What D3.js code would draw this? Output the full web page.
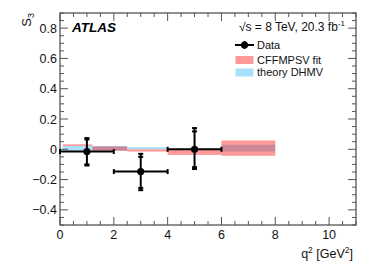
<!DOCTYPE html>
<html><head><meta charset="utf-8">
<script src="https://cdn.jsdelivr.net/npm/d3@7"></script>
<style>body{margin:0;background:#fff}svg{display:block;font-family:"Liberation Sans",Arial,sans-serif}</style>
</head><body>
<svg id="c" width="374" height="268"></svg>
<script>
// Data
const dataX = [1, 3, 5];
const dataXlo = [0, 2, 4];
const dataXhi = [2, 4, 6];
const dataY = [-0.015, -0.147, 0.0];
const statUp = [0.080, 0.097, 0.118];
const statDn = [0.085, 0.108, 0.118];
const totUp = [0.089, 0.117, 0.140];
const totDn = [0.092, 0.123, 0.130];

const fitLo = [0.1, 1.2, 2.5, 4.0, 6.0];
const fitHi = [1.2, 2.5, 4.0, 6.0, 8.0];
const fitMin = [0.022, -0.010, -0.015, -0.037, -0.043];
const fitMax = [0.033, 0.019, 0.000, -0.003, 0.058];

const thLo = [0.1, 2.5, 6.0];
const thHi = [2.5, 4.0, 8.0];
const thMin = [-0.010, 0.000, -0.015];
const thMax = [0.022, 0.0145, 0.030];

const xTicks = [0, 2, 4, 6, 8, 10];
const yTicks = [-0.4, -0.2, 0, 0.2, 0.4, 0.6, 0.8];

const L = 60, R = 356, T = 13, B = 225;
const x = d3.scaleLinear().domain([0, 11]).range([L, R]);
const y = d3.scaleLinear().domain([-0.5, 0.9]).range([B, T]);
const svg = d3.select("#c");
const frameCol = "#555";

// theory bands
svg.append("g").selectAll("rect").data(thLo).join("rect")
  .attr("x", (d,i) => x(d)).attr("width", (d,i) => x(thHi[i]) - x(d))
  .attr("y", (d,i) => y(thMax[i])).attr("height", (d,i) => y(thMin[i]) - y(thMax[i]))
  .attr("fill", "#aae1fa");
svg.append("g").selectAll("rect").data(fitLo).join("rect")
  .attr("x", (d,i) => x(d)).attr("width", (d,i) => x(fitHi[i]) - x(d))
  .attr("y", (d,i) => y(fitMax[i])).attr("height", (d,i) => y(fitMin[i]) - y(fitMax[i]))
  .attr("fill", "rgba(255,0,0,0.4)");

// frame + ticks
function ticksY(side) {
  const g = svg.append("g");
  const minor = d3.range(-0.5, 0.9001, 0.05);
  minor.forEach(v => {
    const isMajor = Math.abs(Math.round(v*5) - v*5) < 1e-6;
    const len = isMajor ? 8 : 4;
    const x0 = side === "l" ? L : R;
    const x1 = side === "l" ? L + len : R - len;
    g.append("line").attr("x1", x0).attr("x2", x1).attr("y1", y(v)).attr("y2", y(v))
      .attr("stroke", frameCol).attr("stroke-width", 1);
  });
}
function ticksX(side) {
  const g = svg.append("g");
  const minor = d3.range(0, 11.001, 0.5);
  minor.forEach(v => {
    const isMajor = Math.abs(v % 2) < 1e-6;
    const len = isMajor ? 8 : 4;
    const y0 = side === "b" ? B : T;
    const y1 = side === "b" ? B - len : T + len;
    g.append("line").attr("x1", x(v)).attr("x2", x(v)).attr("y1", y0).attr("y2", y1)
      .attr("stroke", frameCol).attr("stroke-width", 1);
  });
}
ticksY("l"); ticksY("r"); ticksX("b"); ticksX("t");
svg.append("rect").attr("x", L).attr("y", T).attr("width", R - L).attr("height", B - T)
  .attr("fill", "none").attr("stroke", frameCol).attr("stroke-width", 1.3);

// tick labels
const fmt = v => (v < 0 ? "\u2212" : "") + (v === 0 ? "0" : Math.abs(v).toFixed(1));
svg.append("g").selectAll("text").data(yTicks).join("text")
  .attr("x", L - 3).attr("y", d => y(d) + 4.5).attr("text-anchor", "end")
  .attr("font-size", 12.5).attr("fill", "#111").text(fmt);
svg.append("g").selectAll("text").data(xTicks).join("text")
  .attr("x", d => x(d)).attr("y", B + 14).attr("text-anchor", "middle")
  .attr("font-size", 12.5).attr("fill", "#111").text(d => d);

// axis titles
const yt = svg.append("text").attr("transform", `translate(31,${T}) rotate(-90)`)
  .attr("text-anchor", "end").attr("font-size", 13).attr("fill", "#111");
yt.append("tspan").text("S");
yt.append("tspan").attr("font-size", 9).attr("dy", 3).text("3");
const xt = svg.append("text").attr("x", 353).attr("y", 258).attr("text-anchor", "end")
  .attr("font-size", 12.5).attr("fill", "#111");
xt.append("tspan").text("q");
xt.append("tspan").attr("font-size", 8.5).attr("dy", -5).text("2");
xt.append("tspan").attr("dy", 5).text(" [GeV");
xt.append("tspan").attr("font-size", 8.5).attr("dy", -5).text("2");
xt.append("tspan").attr("dy", 5).text("]");

// labels
svg.append("text").attr("x", 72).attr("y", 32).attr("font-size", 13.5)
  .attr("font-weight", "bold").attr("font-style", "italic").attr("fill", "#000").text("ATLAS");
const en = svg.append("text").attr("x", 345).attr("y", 31).attr("text-anchor", "end")
  .attr("font-size", 12).attr("fill", "#111");
en.append("tspan").text("\u221As = 8 TeV, 20.3 fb");
en.append("tspan").attr("font-size", 8).attr("dy", -5).text("-1");

// data points
const dg = svg.append("g").attr("stroke", "#000").attr("stroke-width", 2);
dataX.forEach((xv, i) => {
  const cy = y(dataY[i]);
  dg.append("line").attr("x1", x(dataXlo[i])).attr("x2", x(dataXhi[i])).attr("y1", cy).attr("y2", cy);
  [dataXlo[i], dataXhi[i]].forEach(e => dg.append("line").attr("x1", x(e)).attr("x2", x(e)).attr("y1", cy - 2.5).attr("y2", cy + 2.5));
  dg.append("line").attr("x1", x(xv)).attr("x2", x(xv)).attr("y1", y(dataY[i] + totUp[i])).attr("y2", y(dataY[i] - totDn[i]));
  [dataY[i] + totUp[i], dataY[i] - totDn[i], dataY[i] + statUp[i], dataY[i] - statDn[i]].forEach(v =>
    dg.append("line").attr("x1", x(xv) - 2.5).attr("x2", x(xv) + 2.5).attr("y1", y(v)).attr("y2", y(v)));
});
svg.append("g").selectAll("circle").data(dataX).join("circle")
  .attr("cx", d => x(d)).attr("cy", (d,i) => y(dataY[i])).attr("r", 3.6).attr("fill", "#000");

// legend
const lg = svg.append("g");
lg.append("line").attr("x1", 235).attr("x2", 254).attr("y1", 45).attr("y2", 45).attr("stroke", "#000").attr("stroke-width", 2);
lg.append("circle").attr("cx", 244.5).attr("cy", 45).attr("r", 3.6).attr("fill", "#000");
lg.append("line").attr("x1", 244.5).attr("x2", 244.5).attr("y1", 41).attr("y2", 49).attr("stroke", "#000").attr("stroke-width", 2);
lg.append("rect").attr("x", 235.5).attr("y", 56).attr("width", 18).attr("height", 8).attr("fill", "#ff9999");
lg.append("rect").attr("x", 235.5).attr("y", 68.5).attr("width", 18).attr("height", 8).attr("fill", "#aae1fa");
const legTxt = ["Data", "CFFMPSV fit", "theory DHMV"];
const legY = [49, 64, 76];
lg.selectAll("text").data(legTxt).join("text").attr("x", 257).attr("y", (d,i) => legY[i])
  .attr("font-size", 11).attr("fill", "#111").text(d => d);
</script>
</body></html>
